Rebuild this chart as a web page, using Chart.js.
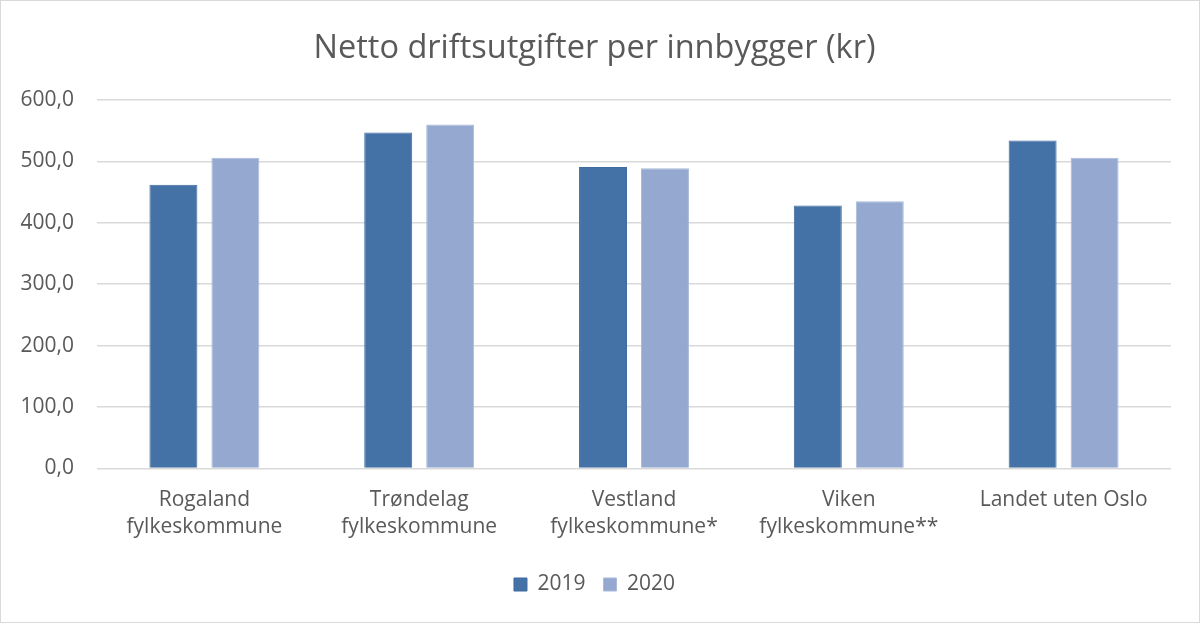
<!DOCTYPE html>
<html>
<head>
<meta charset="utf-8">
<script src="https://cdn.jsdelivr.net/npm/chart.js@4/dist/chart.umd.min.js"></script>
<style>
  html, body { margin: 0; padding: 0; background: #fff; }
  #wrap { width: 1198px; height: 621px; border: 1px solid #d9d9d9; position: relative; }
</style>
</head>
<body>
<div id="wrap"><canvas id="chart" width="1198" height="621"></canvas></div>
<script>
// Data
const categories = [
    ['Rogaland', 'fylkeskommune'],
    ['Trøndelag', 'fylkeskommune'],
    ['Vestland', 'fylkeskommune*'],
    ['Viken', 'fylkeskommune**'],
    'Landet uten Oslo'
];
const values2019 = [462, 547, 491, 428, 534];
const values2020 = [506, 560, 489, 435, 506];
const seriesLabels = ['2019', '2020'];

const textColor = '#595959';
const gridColor = '#d9d9d9';
const fontFamily = "'Open Sans', 'Noto Sans', sans-serif";

new Chart(document.getElementById('chart'), {
    type: 'bar',
    data: {
        labels: categories,
        datasets: [
            {
                label: seriesLabels[0],
                data: values2019,
                backgroundColor: '#4472a6',
                borderColor: '#3f6b9e',
                borderWidth: 1
            },
            {
                label: seriesLabels[1],
                data: values2020,
                backgroundColor: '#95a9d0',
                borderColor: '#a9badb',
                borderWidth: 1
            }
        ]
    },
    options: {
        responsive: false,
        animation: false,
        devicePixelRatio: 1,
        categoryPercentage: 0.577,
        barPercentage: 0.774,
        layout: { padding: { left: 17, right: 28, top: 0, bottom: 17 } },
        scales: {
            x: {
                grid: { display: false },
                border: { display: false },
                afterFit: axis => { axis.height += 5; },
                ticks: {
                    color: textColor,
                    font: { family: fontFamily, size: 21, lineHeight: 1.3 },
                    padding: 10,
                    maxRotation: 0
                }
            },
            y: {
                min: 0,
                max: 600,
                afterFit: axis => { axis.width = 79; },
                ticks: {
                    stepSize: 100,
                    color: textColor,
                    padding: 23,
                    font: { family: fontFamily, size: 21 },
                    callback: v => v.toFixed(1).replace('.', ',')
                },
                grid: { color: gridColor, lineWidth: 1.5, drawTicks: false },
                border: { display: false }
            }
        },
        plugins: {
            title: {
                display: true,
                text: 'Netto driftsutgifter per innbygger (kr)',
                color: textColor,
                font: { family: fontFamily, size: 32.5, weight: 'normal' },
                padding: { top: 28, bottom: 32 }
            },
            legend: {
                position: 'bottom',
                labels: {
                    color: textColor,
                    font: { family: fontFamily, size: 21 },
                    boxWidth: 13,
                    boxHeight: 13,
                    padding: 18
                }
            },
            tooltip: { enabled: false }
        }
    }
});
</script>
</body>
</html>
